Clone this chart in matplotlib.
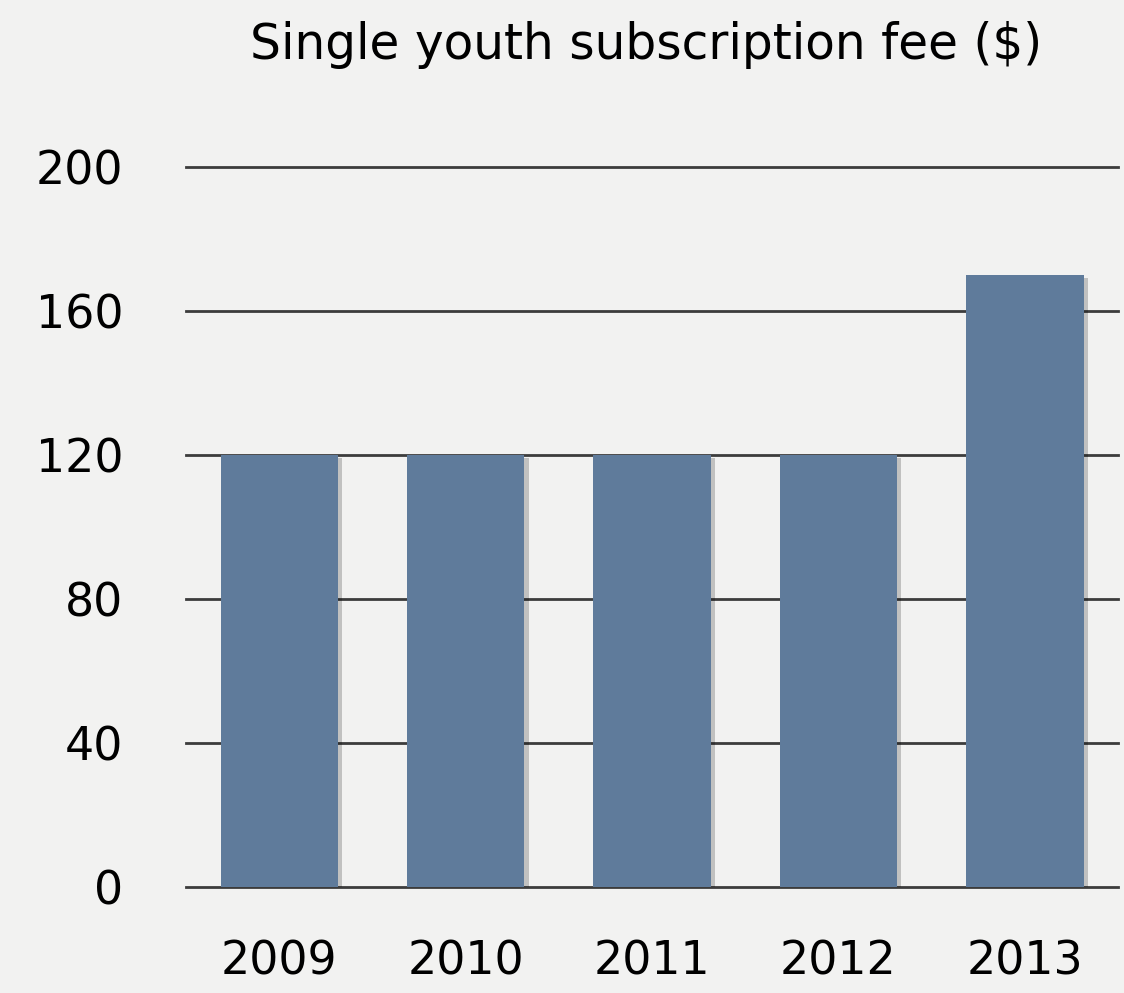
import numpy as np
import matplotlib
matplotlib.use('Agg')
from matplotlib import pyplot as plt
from matplotlib import patheffects as pe

# Data
years = ['2009', '2010', '2011', '2012', '2013']
fees = [120, 120, 120, 120, 170]
yticks = [0, 40, 80, 120, 160, 200]

bg = '#f2f2f1'
barColour = '#5f7b9b'

fig = plt.figure(figsize=(11.24, 9.93), dpi=100, facecolor=bg)
ax = fig.add_axes([0.1655, 0.1067, 0.8292, 0.7251])
ax.set_facecolor(bg)

x = np.arange(len(years))

# Gridlines
for t in yticks:
    ax.axhline(t, color='#3c3c3c', lw=2, zorder=1, clip_on=False)

bars = ax.bar(x, fees, width=0.63, color=barColour, zorder=2)
for b in bars:
    b.set_path_effects([pe.SimplePatchShadow(offset=(3, -2), shadow_rgbFace='#000000', alpha=0.2),
                        pe.Normal()])

ax.set_xlim(-0.5, len(years) - 0.5)
ax.set_ylim(0, 200)
ax.set_xticks(x)
ax.set_xticklabels(years)
ax.set_yticks(yticks)
ax.tick_params(axis='both', length=0, labelsize=33, colors='black')
ax.tick_params(axis='y', pad=45)
ax.tick_params(axis='x', pad=38)
for s in ax.spines.values():
    s.set_visible(False)

fig.text(0.575, 0.955, 'Single youth subscription fee ($)', ha='center', va='center',
         fontsize=35)

fig.savefig('out.png', dpi=100, facecolor=bg)
